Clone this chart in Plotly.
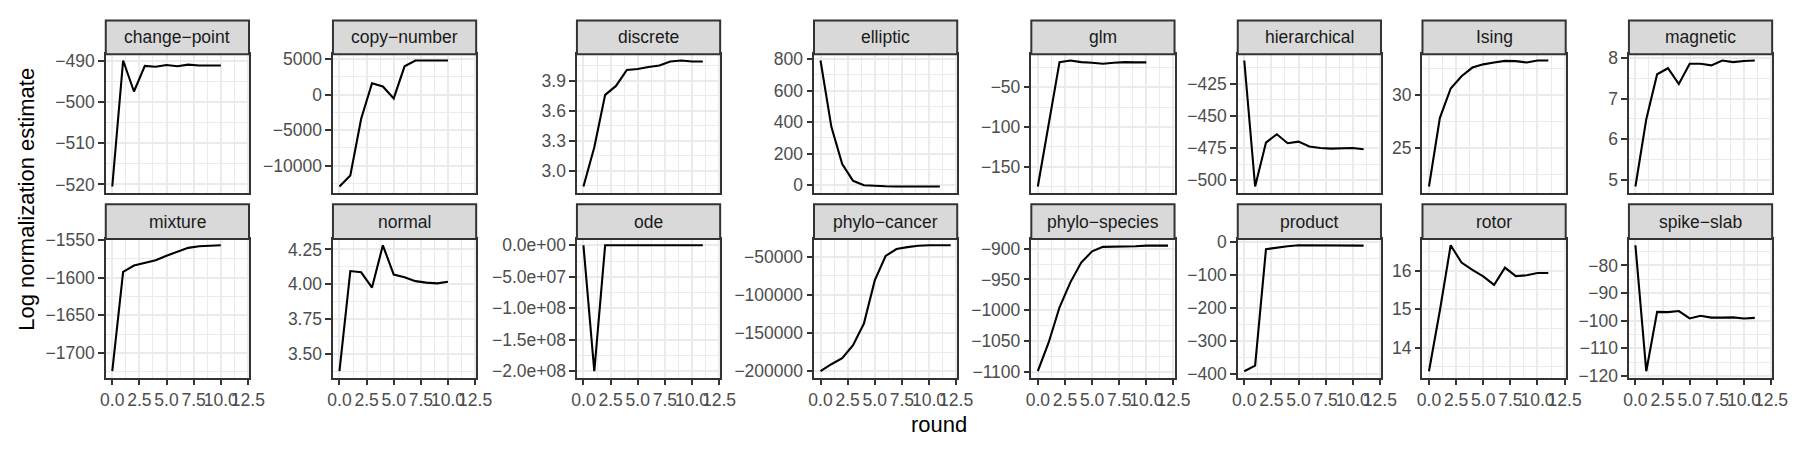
import plotly.graph_objects as go

# ---------------- data ----------------
panel_names = ["change−point", "copy−number", "discrete", "elliptic", "glm", "hierarchical", "Ising", "magnetic",
               "mixture", "normal", "ode", "phylo−cancer", "phylo−species", "product", "rotor", "spike−slab"]

change_point = [-520.5, -490.0, -497.5, -491.3, -491.5, -491.1, -491.4, -491.0, -491.2, -491.2, -491.2]
copy_number = [-12900, -11350, -3400, 1580, 1130, -540, 3960, 4770, 4770, 4770, 4770]
discrete = [2.84, 3.234, 3.76, 3.85, 4.01, 4.02, 4.04, 4.055, 4.095, 4.105, 4.095, 4.095]
elliptic = [790, 370, 134, 28, 0, -5, -7, -8, -8, -8, -8, -8]
glm = [-174.5, -96.6, -18.7, -16.7, -18.7, -19.5, -20.7, -19.5, -18.7, -19.0, -19.0]
hierarchical = [-406.75, -505, -470.75, -464.25, -471.25, -470, -473.75, -475, -475.5, -475.5, -475, -476]
ising = [21.42, 27.83, 30.6, 31.75, 32.56, 32.86, 33.04, 33.19, 33.16, 33.04, 33.22, 33.22]
magnetic = [4.83, 6.49, 7.60, 7.75, 7.36, 7.86, 7.86, 7.82, 7.94, 7.90, 7.93, 7.94]
mixture = [-1724, -1592.5, -1584, -1580, -1577, -1571, -1566, -1560.6, -1558.5, -1557.6, -1557.2]
normal = [3.377, 4.095, 4.086, 3.977, 4.28, 4.07, 4.05, 4.023, 4.012, 4.007, 4.018]
ode = [0, -2.0e8, 0, 0, 0, 0, 0, 0, 0, 0, 0, 0]
phylo_cancer = [-200000, -190800, -183000, -166000, -137500, -81000, -49000, -40000, -37400, -35700,
                -35000, -35000, -35000]
phylo_species = [-1099.5, -1052.6, -995.3, -954.7, -922.4, -904.2, -896.9, -896.9, -896.9, -895.8,
                 -894.8, -894.3, -894.8]
product = [-393, -376, -22, -17, -13, -10, -10, -10.5, -11, -11, -11, -11]
rotor = [13.39, 14.96, 16.66, 16.21, 16.02, 15.85, 15.63, 16.08, 15.86, 15.88, 15.94, 15.94]
spike_slab = [-72.7, -118.3, -96.8, -96.9, -96.5, -99.2, -98.2, -98.9, -98.9, -98.8, -99.2, -99.0]

series = [change_point, copy_number, discrete, elliptic, glm, hierarchical, ising, magnetic,
          mixture, normal, ode, phylo_cancer, phylo_species, product, rotor, spike_slab]

x_ticks = [0, 2.5, 5, 7.5, 10, 12.5]
x_tick_labels = ["0.0", "2.5", "5.0", "7.5", "10.0", "12.5"]

y_ticks = [
    [-520, -510, -500, -490],
    [-10000, -5000, 0, 5000],
    [3.0, 3.3, 3.6, 3.9],
    [0, 200, 400, 600, 800],
    [-150, -100, -50],
    [-500, -475, -450, -425],
    [25, 30],
    [5, 6, 7, 8],
    [-1700, -1650, -1600, -1550],
    [3.5, 3.75, 4.0, 4.25],
    [-2e8, -1.5e8, -1e8, -5e7, 0],
    [-200000, -150000, -100000, -50000],
    [-1100, -1050, -1000, -950, -900],
    [-400, -300, -200, -100, 0],
    [14, 15, 16],
    [-120, -110, -100, -90, -80],
]
y_tick_labels = [
    ["−520", "−510", "−500", "−490"],
    ["−10000", "−5000", "0", "5000"],
    ["3.0", "3.3", "3.6", "3.9"],
    ["0", "200", "400", "600", "800"],
    ["−150", "−100", "−50"],
    ["−500", "−475", "−450", "−425"],
    ["25", "30"],
    ["5", "6", "7", "8"],
    ["−1700", "−1650", "−1600", "−1550"],
    ["3.50", "3.75", "4.00", "4.25"],
    ["−2.0e+08", "−1.5e+08", "−1.0e+08", "−5.0e+07", "0.0e+00"],
    ["−200000", "−150000", "−100000", "−50000"],
    ["−1100", "−1050", "−1000", "−950", "−900"],
    ["−400", "−300", "−200", "−100", "0"],
    ["14", "15", "16"],
    ["−120", "−110", "−100", "−90", "−80"],
]

x_title = "round"
y_title = "Log normalization estimate"

# ---------------- layout geometry (pixels) ----------------
W, H = 1800, 450
col_left = [101, 331, 578, 818, 1038, 1247, 1434, 1643]
panel_w = 145
row_panel = [(47, 191), (239, 383)]   # top, bottom of plotting area
row_strip = [(12, 47), (203, 239)]    # top, bottom of strip

FONT = "Liberation Sans, Arial, Helvetica, sans-serif"
BORDER = "#333333"
GRID = "#EBEBEB"

fig = go.Figure()
layout = dict(
    width=W, height=H, margin=dict(l=0, r=0, t=0, b=0),
    paper_bgcolor="white", plot_bgcolor="white", showlegend=False,
    font=dict(family=FONT, color="#4D4D4D"),
)
shapes, annotations = [], []

n_max = max(len(s) for s in series) - 1
x_range = [0 - 0.05 * n_max, n_max + 0.05 * n_max]

for i, (name, vals) in enumerate(zip(panel_names, series)):
    r, c = divmod(i, 8)
    sfx = "" if i == 0 else str(i + 1)
    x0 = col_left[c] / W
    x1 = (col_left[c] + panel_w) / W
    ptop, pbot = row_panel[r]
    y0 = 1 - pbot / H
    y1 = 1 - ptop / H

    lo, hi = min(vals), max(vals)
    pad = 0.05 * (hi - lo)
    yt = y_ticks[i]
    ystep = yt[1] - yt[0]

    layout["xaxis" + sfx] = dict(
        domain=[x0, x1], anchor="y" + sfx, range=x_range,
        tickmode="array", tickvals=x_ticks, ticktext=x_tick_labels,
        showticklabels=(r == 1), ticks="outside" if r == 1 else "",
        ticklen=5.5, tickwidth=1.5, tickcolor=BORDER, tickangle=0,
        tickfont=dict(size=17.5, color="#4D4D4D", family=FONT),
        showgrid=True, gridcolor=GRID, gridwidth=2,
        minor=dict(tickmode="linear", tick0=0, dtick=1.25, showgrid=True, gridcolor=GRID, gridwidth=1, ticks=""),
        showline=True, linecolor=BORDER, linewidth=2, mirror=True, zeroline=False, fixedrange=True,
    )
    layout["yaxis" + sfx] = dict(
        domain=[y0, y1], anchor="x" + sfx, range=[lo - pad, hi + pad],
        tickmode="array", tickvals=yt, ticktext=y_tick_labels[i],
        ticks="outside", ticklen=5.5, tickwidth=1.5, tickcolor=BORDER,
        tickfont=dict(size=17.5, color="#4D4D4D", family=FONT),
        showgrid=True, gridcolor=GRID, gridwidth=2,
        minor=dict(tickmode="linear", tick0=yt[0], dtick=ystep / 2, showgrid=True, gridcolor=GRID, gridwidth=1, ticks=""),
        showline=True, linecolor=BORDER, linewidth=2, mirror=True, zeroline=False, fixedrange=True,
    )

    fig.add_trace(go.Scatter(
        x=list(range(len(vals))), y=vals, mode="lines",
        line=dict(color="black", width=2.1),
        xaxis="x" + sfx, yaxis="y" + sfx, hoverinfo="skip",
    ))

    stop, sbot = row_strip[r]
    shapes.append(dict(
        type="rect", xref="paper", yref="paper",
        x0=x0, x1=x1, y0=1 - sbot / H, y1=1 - stop / H,
        fillcolor="#D9D9D9", line=dict(color=BORDER, width=2), layer="above",
    ))
    annotations.append(dict(
        text=name, xref="paper", yref="paper", showarrow=False,
        x=(x0 + x1) / 2, y=1 - (stop + sbot) / 2 / H, xanchor="center", yanchor="middle",
        font=dict(size=17.5, color="#1A1A1A", family=FONT),
    ))

annotations.append(dict(
    text=x_title, xref="paper", yref="paper", showarrow=False,
    x=944.5 / W, y=1 - 432 / H, xanchor="center", yanchor="middle",
    font=dict(size=22, color="black", family=FONT),
))
annotations.append(dict(
    text=y_title, xref="paper", yref="paper", showarrow=False, textangle=-90,
    x=20 / W, y=1 - 197.5 / H, xanchor="center", yanchor="middle",
    font=dict(size=22, color="black", family=FONT),
))

layout["shapes"] = shapes
layout["annotations"] = annotations
fig.update_layout(**layout)
fig.write_html("out.html")
